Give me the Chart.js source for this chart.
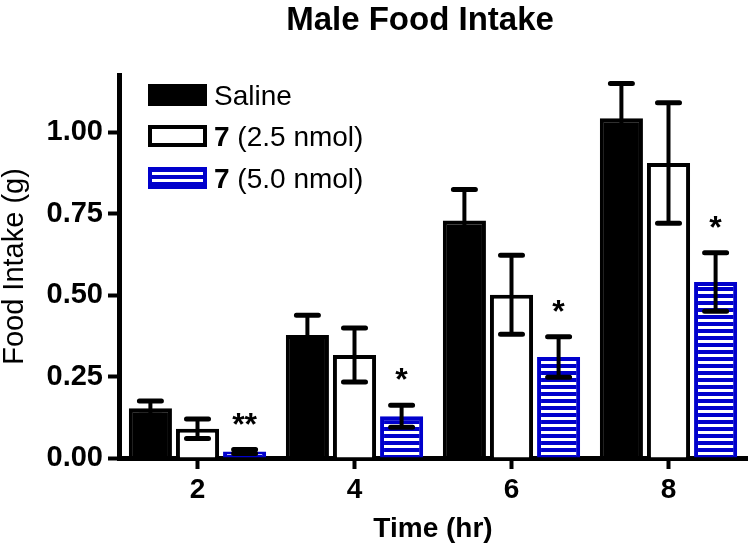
<!DOCTYPE html>
<html>
<head>
<meta charset="utf-8">
<script src="https://cdn.jsdelivr.net/npm/chart.js@4"></script>
<style>
  html, body { margin: 0; padding: 0; background: #fff; }
  canvas { display: block; }
</style>
</head>
<body>
<canvas id="chart" width="755" height="556"></canvas>
<script>
// valori (g)
const timeLabels = ['2', '4', '6', '8'];
const salineMean = [0.153, 0.377, 0.729, 1.042];
const salineSem  = [0.022, 0.061, 0.095, 0.107];
const lowMean  = [0.090, 0.316, 0.501, 0.905];
const lowSem   = [0.030, 0.083, 0.121, 0.185];
const highMean = [0.020, 0.128, 0.310, 0.540];
const highSem  = [0.006, 0.034, 0.062, 0.090];
const signif = ['**', '*', '*', '*'];
const yTicks = [0, 0.25, 0.5, 0.75, 1.0];

const FONT = '"Liberation Sans", Arial, sans-serif';
const BLUE = '#0000cc';

// righe orizzontali bianche dentro le barre blu
function stripes() {
  const c = document.createElement('canvas');
  c.width = 8; c.height = 7;
  const g = c.getContext('2d');
  g.fillStyle = '#fff'; g.fillRect(0, 0, 8, 7);
  g.fillStyle = BLUE; g.fillRect(0, 0, 8, 4);
  return g.createPattern(c, 'repeat');
}
const stripePattern = stripes();

const sems = [salineSem, lowSem, highSem];

const errorBars = {
  id: 'errorBars',
  afterDatasetsDraw(chart) {
    const ctx = chart.ctx;
    const y = chart.scales.y;
    ctx.save();
    ctx.strokeStyle = '#000';
    chart.data.datasets.forEach((ds, i) => {
      const meta = chart.getDatasetMeta(i);
      meta.data.forEach((bar, j) => {
        const v = ds.data[j], e = sems[i][j];
        const top = y.getPixelForValue(v + e);
        const bot = y.getPixelForValue(v - e);
        ctx.lineCap = 'butt';
        ctx.lineWidth = 4;
        ctx.beginPath();
        ctx.moveTo(bar.x, bot); ctx.lineTo(bar.x, top);
        ctx.stroke();
        ctx.lineCap = 'round';
        ctx.lineWidth = 5;
        ctx.beginPath();
        ctx.moveTo(bar.x - 11, top); ctx.lineTo(bar.x + 11, top);
        ctx.moveTo(bar.x - 11, bot); ctx.lineTo(bar.x + 11, bot);
        ctx.stroke();
      });
    });
    // asterischi sopra 7 (5.0 nmol)
    const meta = chart.getDatasetMeta(2);
    ctx.fillStyle = '#000';
    ctx.font = 'bold 32px ' + FONT;
    ctx.textAlign = 'center';
    ctx.textBaseline = 'alphabetic';
    meta.data.forEach((bar, j) => {
      const cy = y.getPixelForValue(highMean[j] + highSem[j]) - 31;
      const m = ctx.measureText(signif[j]);
      const off = (m.actualBoundingBoxAscent - m.actualBoundingBoxDescent) / 2;
      ctx.fillText(signif[j], bar.x, cy + off);
    });
    ctx.restore();
  }
};

const titleAndLegend = {
  id: 'titleAndLegend',
  afterDraw(chart) {
    const ctx = chart.ctx;
    ctx.save();
    ctx.fillStyle = '#000';
    ctx.font = 'bold 33px ' + FONT;
    ctx.textAlign = 'center';
    ctx.textBaseline = 'alphabetic';
    ctx.fillText('Male Food Intake', 420, 30);

    const rows = [
      { bold: '', text: 'Saline', fill: '#000', border: '#000' },
      { bold: '7', text: ' (2.5 nmol)', fill: '#fff', border: '#000' },
      { bold: '7', text: ' (5.0 nmol)', fill: stripePattern, border: BLUE }
    ];
    const centers = [95, 136, 178];
    ctx.textAlign = 'left';
    rows.forEach((r, i) => {
      const cy = centers[i];
      ctx.fillStyle = r.border;
      ctx.fillRect(148, cy - 11, 59, 22);
      ctx.fillStyle = r.fill;
      ctx.fillRect(152, cy - 7, 51, 14);
      let x = 214;
      if (r.bold) {
        ctx.fillStyle = '#000';
        ctx.font = 'bold 28px ' + FONT;
        ctx.fillText(r.bold, x, cy + 10);
        x += ctx.measureText(r.bold).width;
      }
      ctx.fillStyle = '#000';
      ctx.font = '28px ' + FONT;
      ctx.fillText(r.text, x, cy + 10);
    });
    ctx.restore();
  }
};

const common = { borderWidth: 4, borderSkipped: 'start', categoryPercentage: 0.9, barPercentage: 0.915 };

new Chart(document.getElementById('chart'), {
  type: 'bar',
  data: {
    labels: timeLabels,
    datasets: [
      { label: 'Saline', data: salineMean, backgroundColor: '#000', borderColor: '#000', ...common },
      { label: '7 (2.5 nmol)', data: lowMean, backgroundColor: '#fff', borderColor: '#000', ...common },
      { label: '7 (5.0 nmol)', data: highMean, backgroundColor: stripePattern, borderColor: BLUE, ...common }
    ]
  },
  options: {
    responsive: false,
    animation: false,
    layout: { padding: { top: 75, right: 8, left: 0, bottom: 0 } },
    plugins: { legend: { display: false }, tooltip: { enabled: false }, title: { display: false } },
    scales: {
      x: {
        offset: true,
        grid: { display: true, offset: false, drawOnChartArea: false, drawTicks: true, tickLength: 11, tickWidth: 4, tickColor: '#000' },
        border: { display: true, width: 5, color: '#000' },
        ticks: { color: '#000', font: { family: FONT, size: 28, weight: 'bold' }, padding: 4, maxRotation: 0 },
        title: { display: true, text: 'Time (hr)', color: '#000', font: { family: FONT, size: 28, weight: 'bold' }, padding: { top: 0, bottom: 10 } },
        afterFit(s) { s.height = 98; }
      },
      y: {
        min: 0,
        max: 1.175,
        afterBuildTicks(s) { s.ticks = yTicks.map(v => ({ value: v })); },
        grid: { display: true, drawOnChartArea: false, drawTicks: true, tickLength: 11, tickWidth: 4, tickColor: '#000' },
        border: { display: true, width: 5, color: '#000' },
        ticks: { color: '#000', font: { family: FONT, size: 29, weight: 'bold' }, padding: 5, callback: v => v.toFixed(2) },
        title: { display: true, text: 'Food Intake (g)', color: '#000', font: { family: FONT, size: 29, weight: 'normal', lineHeight: 1 }, padding: { top: 0, bottom: 0 } },
        afterFit(s) { s.width = 119; }
      }
    }
  },
  plugins: [errorBars, titleAndLegend]
});
</script>
</body>
</html>
